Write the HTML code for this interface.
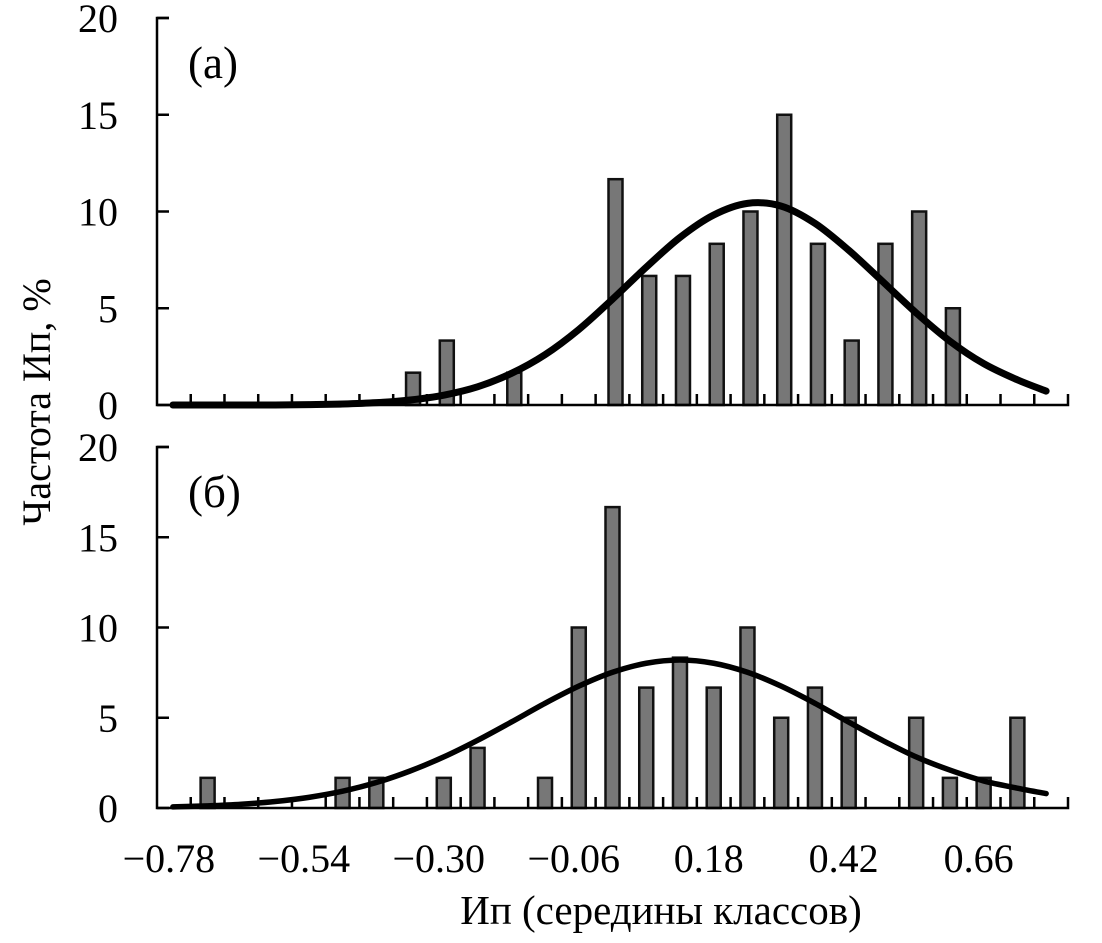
<!DOCTYPE html>
<html><head><meta charset="utf-8"><style>
html,body{margin:0;padding:0;background:#fff;}
svg{display:block;font-family:"Liberation Serif","Noto Serif CJK SC",serif;}
</style></head><body>
<svg id="chart" width="1102" height="943" viewBox="0 0 1102 943" xmlns="http://www.w3.org/2000/svg">
<g id="g"></g>
</svg>
<script>
const binStart = -0.78, binStep = 0.06, binCount = 27;
const topBars = [0,0,0,0,0,0,0,1.67,3.33,0,1.67,0,0,11.67,6.67,6.67,8.33,10,15,8.33,3.33,8.33,10,5,0,0,0];
const bottomBars = [0,1.67,0,0,0,1.67,1.67,0,1.67,3.33,0,1.67,10,16.67,6.67,8.33,6.67,10,5,6.67,5,0,5,1.67,1.67,5,0];
const topCurve = [0,0,0,0,0.02,0.05,0.12,0.26,0.51,0.94,1.63,2.6,3.9,5.47,7.12,8.66,9.82,10.42,10.28,9.39,8.0,6.39,4.76,3.3,2.14,1.3,0.72];
const bottomCurve = [0.06,0.12,0.21,0.36,0.59,0.93,1.41,2.05,2.83,3.75,4.76,5.8,6.75,7.52,8.02,8.2,8.02,7.52,6.75,5.8,4.76,3.75,2.83,2.1,1.5,1.1,0.8];
const yTicks = [0,5,10,15,20];
const xLabels = ["\u22120.78","\u22120.54","\u22120.30","\u22120.06","0.18","0.42","0.66"];
const xLabelBins = [0,4,8,12,16,20,24];

const NS="http://www.w3.org/2000/svg";
const g=document.getElementById('g');
const X0=157, X1=1068, bw=(X1-X0)/binCount;
function xPos(i){return X0+bw*(i+0.5);}
function mk(tag,attrs,parent){const e=document.createElementNS(NS,tag);for(const k in attrs)e.setAttribute(k,attrs[k]);(parent||g).appendChild(e);return e;}

function panel(name,y0,y20,bars,curve,label,lw,barShift){
  const yS=v=>y0-(y0-y20)*v/20;
  const pg=mk('g',{});
  
  
  bars.forEach((v,i)=>{
    if(v<=0)return;
    const r=mk('rect',{x:xPos(i)-7+barShift,y:yS(v),width:14,height:y0-yS(v),fill:'#777',stroke:'#111','stroke-width':2.5},pg);
    
    
  });
  const ax=mk('path',{d:`M${X0+12},${y20} H${X0} V${y0} H${X1} V${y0-11}`,fill:'none',stroke:'#000','stroke-width':2.5},pg);
  
  
  let td='';
  for(let i=1;i<binCount;i++){const x=X0+bw*i;td+=`M${x},${y0} V${y0-11} `;}
  yTicks.forEach(t=>{td+=`M${X0},${yS(t)} H${X0+12} `;});
  const tk=mk('path',{d:td,stroke:'#000','stroke-width':2.5,fill:'none'},pg);
  
  
  yTicks.forEach(t=>{
    const tx=mk('text',{x:118,y:yS(t)+14,'text-anchor':'end','font-size':40},pg);
    tx.textContent=t;
    
    
  });
  const pts=curve.map((v,i)=>[xPos(i)+(i==0?-1:0)+(i==binCount-1?-5:0),yS(v)]);
  let d=`M${pts[0][0]},${pts[0][1]}`;
  for(let i=0;i<pts.length-1;i++){
    const p0=pts[Math.max(0,i-1)],p1=pts[i],p2=pts[i+1],p3=pts[Math.min(pts.length-1,i+2)];
    d+=` C${p1[0]+(p2[0]-p0[0])/6},${p1[1]+(p2[1]-p0[1])/6} ${p2[0]-(p3[0]-p1[0])/6},${p2[1]-(p3[1]-p1[1])/6} ${p2[0]},${p2[1]}`;
  }
  const c=mk('path',{d:d,fill:'none',stroke:'#000','stroke-width':lw,'stroke-linecap':'round'},pg);
  
  
  const lb=mk('text',{x:188,y:y20+60,'font-size':45},pg);
  lb.textContent=label;
  
  
}
panel('top',405,18,topBars,topCurve,'(а)',7,3);
panel('bottom',808,447,bottomBars,bottomCurve,'(б)',5.5,0);

xLabelBins.forEach((b,k)=>{
  const t=mk('text',{x:xPos(b)-5,y:872,'text-anchor':'middle','font-size':40});
  t.textContent=xLabels[k];
  
  
});
const xt=mk('text',{x:661,y:924,'text-anchor':'middle','font-size':41});
xt.textContent='Ип (середины классов)';


const yt=mk('text',{x:0,y:0,'text-anchor':'middle','font-size':40,transform:'translate(50,402) rotate(-90)'});
yt.textContent='Частота Ип, %';


</script>
</body></html>
